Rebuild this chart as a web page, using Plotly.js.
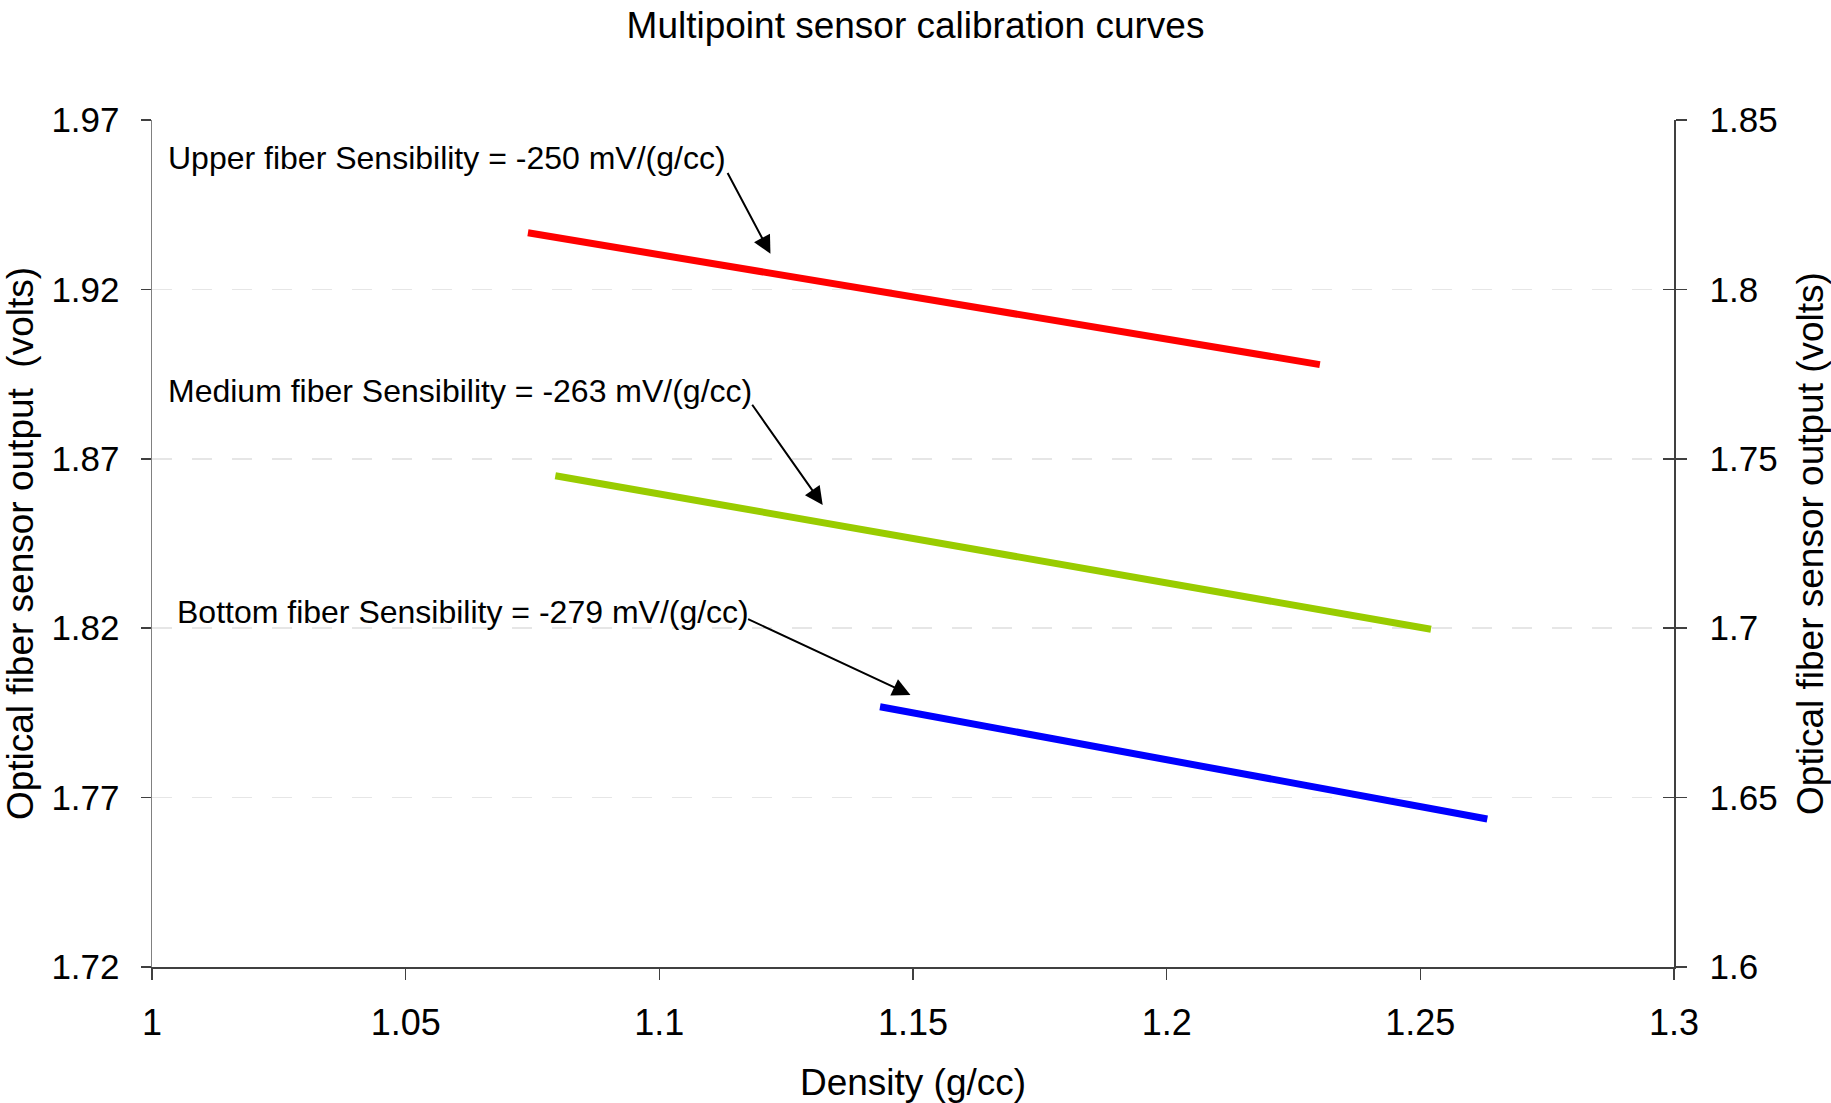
<!DOCTYPE html>
<html>
<head>
<meta charset="utf-8">
<script src="https://cdn.plot.ly/plotly-3.0.1.min.js"></script>
<style>html,body{margin:0;padding:0;background:#fff;}#chart{width:1831px;height:1103px;}</style>
</head>
<body>
<div id="chart"></div>
<script>
// Data
const upperDensity = [1.0741, 1.2302];
const upperOutput = [1.9367, 1.8978];
const mediumDensity = [1.0795, 1.2521];
const mediumOutput = [1.8650, 1.8197];
const bottomDensity = [1.1435, 1.2632];
const bottomOutputRight = [1.6768, 1.6437]; // read on right axis

const chartTitle = 'Multipoint sensor calibration curves';
const xTitle = 'Density (g/cc)';
const yLeftTitle = 'Optical fiber sensor output&nbsp;&nbsp;(volts)';
const yRightTitle = 'Optical fiber sensor output (volts)';

const notes = [
  {text: 'Upper fiber Sensibility = -250 mV/(g/cc)', tx: 1.0028, ty: 1.9589, hx: 1.1219, hy: 1.9305, sx: 1.1133, sy: 1.9548},
  {text: 'Medium fiber Sensibility = -263 mV/(g/cc)', tx: 1.0028, ty: 1.8901, hx: 1.1322, hy: 1.8564, sx: 1.1181, sy: 1.8864},
  {text: 'Bottom fiber Sensibility = -279 mV/(g/cc)', tx: 1.0045, ty: 1.8249, hx: 1.1495, hy: 1.8003, sx: 1.1172, sy: 1.8229}
];

const FONT = 'Liberation Sans, Arial, sans-serif';

const traces = [
  {x: upperDensity, y: upperOutput, type: 'scatter', mode: 'lines', line: {color: '#ff0000', width: 7}, yaxis: 'y', name: 'Upper'},
  {x: mediumDensity, y: mediumOutput, type: 'scatter', mode: 'lines', line: {color: '#99cc00', width: 7}, yaxis: 'y', name: 'Medium'},
  {x: bottomDensity, y: bottomOutputRight, type: 'scatter', mode: 'lines', line: {color: '#0000ff', width: 7}, yaxis: 'y2', name: 'Bottom'},
  {x: [], y: [], type: 'scatter', mode: 'lines', yaxis: 'y3', showlegend: false, hoverinfo: 'skip'}
];

const annotations = [];
notes.forEach(n => {
  annotations.push({x: n.tx, y: n.ty, xref: 'x', yref: 'y', text: n.text, showarrow: false,
    xanchor: 'left', yanchor: 'middle', font: {family: FONT, size: 32, color: '#000'}});
  annotations.push({x: n.hx, y: n.hy, xref: 'x', yref: 'y', ax: n.sx, ay: n.sy, axref: 'x', ayref: 'y',
    text: '', showarrow: true, arrowhead: 2, arrowsize: 1.8, arrowwidth: 2, arrowcolor: '#000', standoff: 0, startstandoff: 0});
});

const layout = {
  width: 1831, height: 1103,
  margin: {l: 152, r: 157, t: 120, b: 136},
  paper_bgcolor: '#fff', plot_bgcolor: '#fff',
  showlegend: false,
  font: {family: FONT, color: '#000'},
  title: {text: chartTitle, font: {family: FONT, size: 37, color: '#000'}, x: 0.5, xanchor: 'center', y: 0.977, yanchor: 'middle', yref: 'container'},
  xaxis: {
    range: [1, 1.3], dtick: 0.05, tick0: 1, showgrid: false, zeroline: false,
    showline: true, linecolor: '#404040', linewidth: 1.5,
    ticks: 'outside', ticklen: 11, tickcolor: '#404040', tickwidth: 1.5,
    tickfont: {family: FONT, size: 36, color: '#000'}, ticklabelstandoff: 12,
    title: {text: xTitle, font: {family: FONT, size: 37, color: '#000'}, standoff: 28}
  },
  yaxis: {
    range: [1.72, 1.97], dtick: 0.05, tick0: 1.72, zeroline: false,
    showgrid: true, gridcolor: '#e6e6e6', gridwidth: 1.5, griddash: '20px,20px',
    showline: true, linecolor: '#808080', linewidth: 1.5,
    ticks: 'outside', ticklen: 10, tickcolor: '#404040', tickwidth: 1.5,
    tickfont: {family: FONT, size: 35, color: '#000'}, ticklabelstandoff: 14,
    tickformat: '.2f',
    title: {text: yLeftTitle, font: {family: FONT, size: 37, color: '#000'}, standoff: 19}
  },
  yaxis2: {
    range: [1.6, 1.85], dtick: 0.05, tick0: 1.6, overlaying: 'y', side: 'right', zeroline: false,
    showgrid: false, showline: true, linecolor: '#404040', linewidth: 1.5,
    ticks: 'outside', ticklen: 11, tickcolor: '#404040', tickwidth: 1.5,
    tickfont: {family: FONT, size: 35, color: '#000'}, ticklabelstandoff: 16,
    title: {text: yRightTitle, font: {family: FONT, size: 37, color: '#000'}, standoff: 22}
  },
  yaxis3: {
    range: [1.6, 1.85], dtick: 0.05, tick0: 1.6, overlaying: 'y', side: 'right', zeroline: false,
    showgrid: false, showline: false, showticklabels: false,
    ticks: 'inside', ticklen: 11, tickcolor: '#404040', tickwidth: 1.5
  },
  annotations: annotations
};

Plotly.newPlot('chart', traces, layout, {displayModeBar: false, staticPlot: true});
</script>
</body>
</html>
